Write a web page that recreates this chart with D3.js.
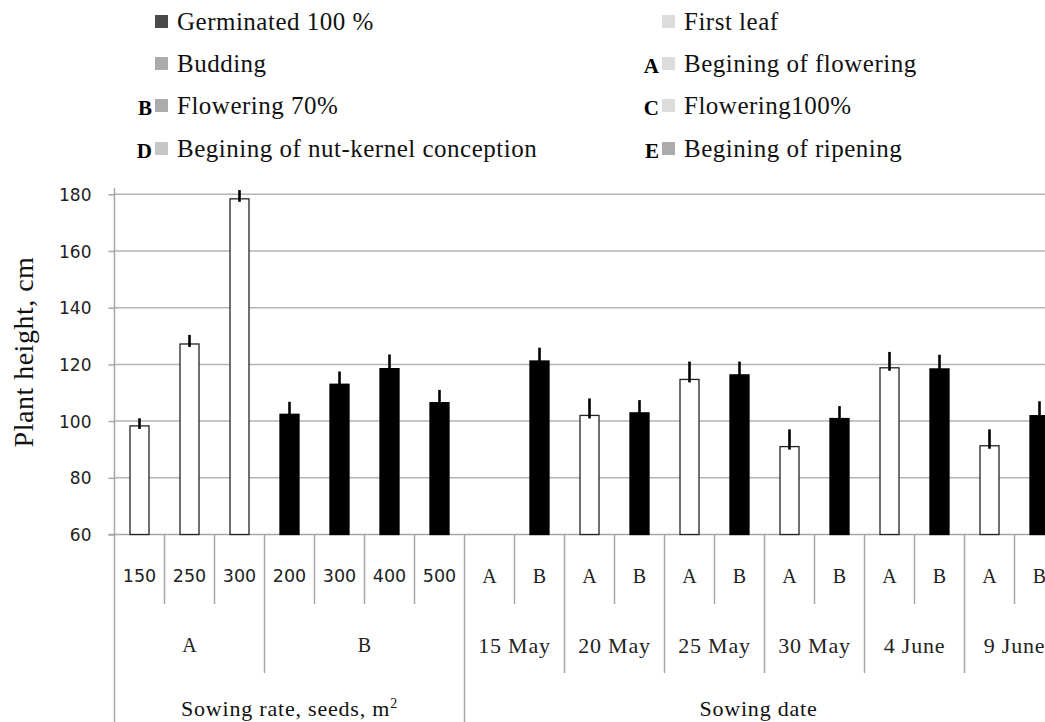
<!DOCTYPE html>
<html>
<head>
<meta charset="utf-8">
<script src="https://cdn.jsdelivr.net/npm/d3@7"></script>
<style>
	body { margin: 0; background: #fff; }
	svg { display: block; }
</style>
</head>
<body>
<svg id="chart"></svg>
<script>
// categories, innermost level first
let level1 = ["150","250","300","200","300","400","500","A","B","A","B","A","B","A","B","A","B","A","B"];
let level2 = ["A","B","15 May","20 May","25 May","30 May","4 June","9 June"];
let level2Size = [3,4,2,2,2,2,2,2];
let level3 = ["Sowing rate, seeds, m","Sowing date"];
let level3Size = [7,12];

// bar kind (open = A, solid = B), height and upper error
let kind = ["A","A","A","B","B","B","B","A","B","A","B","A","B","A","B","A","B","A","B"];
let heights = [98.3,127.2,178.4,102.4,113.0,118.5,106.5,null,121.2,102.0,102.9,114.7,116.3,91.0,100.9,118.8,118.4,91.3,101.9];
let errors = [2.7,3.2,3.1,4.4,4.5,5.0,4.5,null,4.7,6.0,4.5,6.3,4.7,6.1,4.4,5.6,5.0,5.8,5.1];

let yTicks = [60,80,100,120,140,160,180];

let legendLabels = ["Germinated 100 %","First leaf","Budding","Begining of flowering","Flowering 70%","Flowering100%","Begining of nut-kernel conception","Begining of ripening"];
let legendLetters = ["","","","A","B","C","D","E"];
let legendColors = ["#4a4a4a","#dcdcdc","#ababab","#dcdcdc","#ababab","#dcdcdc","#c6c6c6","#ababab"];

const SERIF = "'Liberation Serif', 'Times New Roman', serif";
const SANS = "'DejaVu Sans', sans-serif";
const AXIS = "#a6a6a6";

function init() {
	let width = 1045, height = 722;
	let svg = d3.select("svg#chart")
		.attr("width", width)
		.attr("height", height);

	let left = 114.5, step = 50;
	let x = d3.scaleBand()
		.domain(d3.range(level1.length))
		.range([left, left + step*level1.length])
		.paddingInner(0.6)
		.paddingOuter(0.3);
	let y = d3.scaleLinear()
		.domain([60, 180])
		.range([534.5, 194.3]);
	let fill = d3.scaleOrdinal().domain(["A","B"]).range(["#fff","#000"]);

	// gridlines
	svg.append("g")
		.selectAll("line")
		.data(yTicks.slice(1))
		.enter().append("line")
		.attr("x1", left).attr("x2", width)
		.attr("y1", d => y(d)).attr("y2", d => y(d))
		.attr("stroke", "#b4b4b4")
		.attr("stroke-width", 1.5);

	// y axis
	let yAxis = d3.axisLeft(y).tickValues(yTicks).tickSize(6).tickPadding(17);
	let ya = svg.append("g")
		.attr("transform", `translate(${left},0)`)
		.call(yAxis);
	ya.select(".domain").remove();
	ya.selectAll(".tick line").attr("stroke", AXIS).attr("stroke-width", 1.5);
	ya.selectAll(".tick text")
		.attr("dy", "0.36em")
		.style("font-family", SANS)
		.style("font-size", "17px")
		.style("fill", "#222");

	svg.append("line")
		.attr("x1", left).attr("x2", left)
		.attr("y1", y(180) - 6).attr("y2", height)
		.attr("stroke", AXIS).attr("stroke-width", 1.5);
	svg.append("line")
		.attr("x1", left - 6).attr("x2", width)
		.attr("y1", y(60)).attr("y2", y(60))
		.attr("stroke", AXIS).attr("stroke-width", 1.5);

	let idx = d3.range(level1.length).filter(i => heights[i] != null);

	// bars
	svg.selectAll("rect.bar")
		.data(idx)
		.enter().append("rect")
		.attr("class", "bar")
		.attr("x", i => x(i) + 0.5)
		.attr("width", x.bandwidth() - 1)
		.attr("y", i => y(heights[i]))
		.attr("height", i => y(60) - y(heights[i]))
		.attr("fill", i => fill(kind[i]))
		.attr("stroke", i => kind[i] == "A" ? "#222" : "#000")
		.attr("stroke-width", 1.3);

	// error bars (upper only)
	svg.selectAll("line.err")
		.data(idx)
		.enter().append("line")
		.attr("class", "err")
		.attr("x1", i => x(i) + x.bandwidth()/2)
		.attr("x2", i => x(i) + x.bandwidth()/2)
		.attr("y1", i => y(heights[i]) + 3)
		.attr("y2", i => y(heights[i] + errors[i]))
		.attr("stroke", "#000")
		.attr("stroke-width", 2.6);

	// category dividers
	let edge = i => left + step*i;
	let g2 = [], start = 0;
	level2Size.forEach(n => { g2.push(start); start += n; });
	let g3 = [], s3 = 0;
	level3Size.forEach(n => { g3.push(s3); s3 += n; });
	let divs = d3.range(1, level1.length + 1).map(i => {
		let bottom = 604;
		if (g2.includes(i) || i == level1.length) bottom = 673;
		if (g3.includes(i) || i == level1.length) bottom = height;
		return {i: i, bottom: bottom};
	});
	svg.selectAll("line.div")
		.data(divs)
		.enter().append("line")
		.attr("class", "div")
		.attr("x1", d => edge(d.i)).attr("x2", d => edge(d.i))
		.attr("y1", y(60)).attr("y2", d => d.bottom)
		.attr("stroke", AXIS).attr("stroke-width", 1.5);

	// level 1 labels
	svg.selectAll("text.l1")
		.data(level1)
		.enter().append("text")
		.attr("class", "l1")
		.attr("x", (d, i) => edge(i) + step/2)
		.attr("y", 576)
		.attr("dy", "0.36em")
		.attr("text-anchor", "middle")
		.style("font-family", d => isNaN(+d) ? SERIF : SANS)
		.style("font-size", d => isNaN(+d) ? "20px" : "17.5px")
		.style("fill", "#222")
		.text(d => d);

	// level 2 labels
	svg.selectAll("text.l2")
		.data(level2)
		.enter().append("text")
		.attr("class", "l2")
		.attr("x", (d, i) => edge(g2[i]) + step*level2Size[i]/2)
		.attr("y", 645)
		.attr("dy", "0.36em")
		.attr("text-anchor", "middle")
		.style("font-family", SERIF)
		.style("font-size", d => d.length == 1 ? "20px" : "22px")
		.style("letter-spacing", d => d.length == 1 ? "0px" : "0.8px")
		.style("fill", "#222")
		.text(d => d);

	// level 3 labels
	let l3 = svg.selectAll("text.l3")
		.data(level3)
		.enter().append("text")
		.attr("class", "l3")
		.attr("x", (d, i) => edge(g3[i]) + step*level3Size[i]/2 - (i == 1 ? 6 : 0))
		.attr("y", 716)
		.attr("text-anchor", "middle")
		.style("font-family", SERIF)
		.style("font-size", "22px")
		.style("letter-spacing", "0.8px")
		.style("fill", "#111")
		.text(d => d);
	l3.filter((d, i) => i == 0).append("tspan")
		.attr("dy", -8)
		.style("font-size", "14px")
		.text("2");

	// y title
	svg.append("text")
		.attr("transform", "translate(33,352) rotate(-90)")
		.attr("text-anchor", "middle")
		.style("font-family", SERIF)
		.style("font-size", "28px")
		.style("letter-spacing", "0.5px")
		.style("fill", "#111")
		.text("Plant height, cm");

	// legend
	let rowsY = [22, 64, 106, 149];
	let colX = [155, 662];
	let leg = svg.append("g")
		.selectAll("g")
		.data(legendLabels)
		.enter().append("g")
		.attr("transform", (d, i) => `translate(${colX[i % 2]},${rowsY[Math.floor(i/2)]})`);
	leg.append("rect")
		.attr("x", 0).attr("y", -7)
		.attr("width", 13).attr("height", 13)
		.attr("fill", (d, i) => legendColors[i]);
	leg.append("text")
		.attr("x", 22).attr("dy", "0.33em")
		.style("font-family", SERIF)
		.style("font-size", "25px")
		.style("letter-spacing", "0.5px")
		.style("fill", "#111")
		.text(d => d);
	leg.append("text")
		.attr("x", -3).attr("dy", "0.45em")
		.attr("text-anchor", "end")
		.style("font-family", SERIF)
		.style("font-weight", "bold")
		.style("font-size", "21px")
		.style("fill", "#000")
		.text((d, i) => legendLetters[i]);
}

init();
</script>
</body>
</html>
